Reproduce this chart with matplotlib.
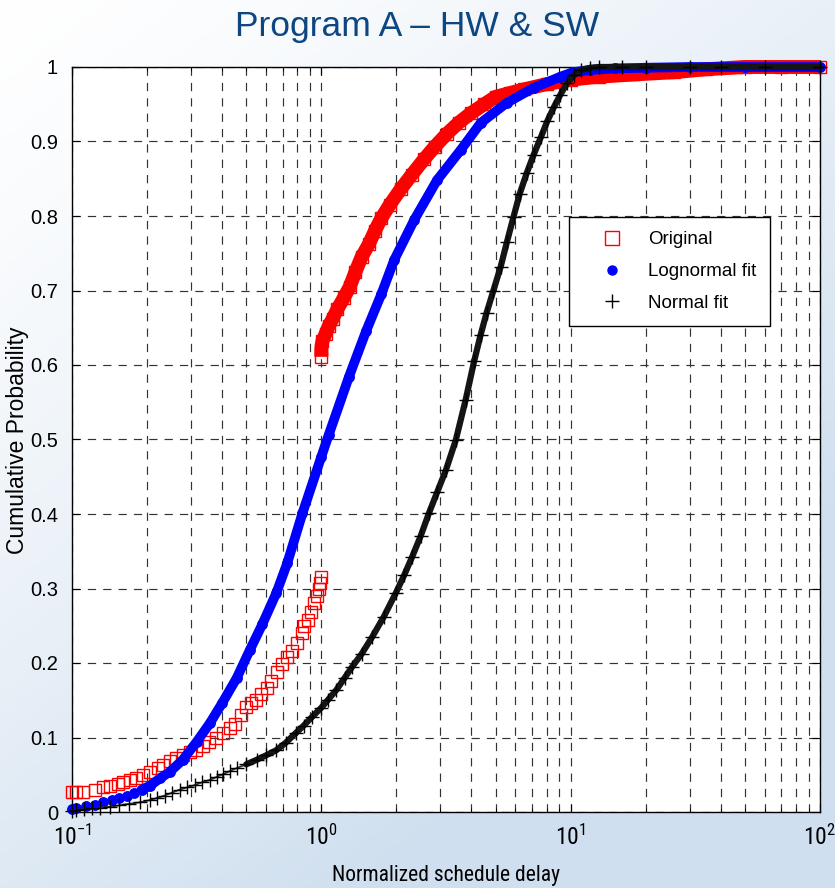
import numpy as np
import matplotlib
matplotlib.use("Agg")
import matplotlib.pyplot as plt
from matplotlib import font_manager
from matplotlib.lines import Line2D

# ---------------- data ----------------
title_text = "Program A – HW & SW"
x_label = "Normalized schedule delay"
y_label = "Cumulative Probability"
legend_labels = ["Original", "Lognormal fit", "Normal fit"]

x_ticks = [0.1, 1, 10, 100]
x_tick_labels = [r"$10^{-1}$", r"$10^{0}$", r"$10^{1}$", r"$10^{2}$"]
y_ticks = [0, 0.1, 0.2, 0.3, 0.4, 0.5, 0.6, 0.7, 0.8, 0.9, 1.0]
y_tick_labels = ["0", "0.1", "0.2", "0.3", "0.4", "0.5", "0.6", "0.7", "0.8", "0.9", "1"]

# Original (empirical) - part below the jump at x = 1
orig_low_x = [0.100, 0.104, 0.111, 0.124, 0.133, 0.142, 0.153, 0.160, 0.171, 0.181,
              0.193, 0.205, 0.221, 0.232, 0.247, 0.262, 0.279, 0.296, 0.315, 0.335,
              0.356, 0.379, 0.403, 0.429, 0.449, 0.478, 0.499, 0.524, 0.549, 0.575,
              0.603, 0.631, 0.661, 0.693, 0.726, 0.760, 0.796, 0.834, 0.855, 0.883,
              0.910, 0.937, 0.958, 0.977, 0.990, 1.000]
orig_low_y = [0.027, 0.027, 0.027, 0.030, 0.033, 0.035, 0.038, 0.040, 0.043, 0.046,
              0.050, 0.054, 0.059, 0.063, 0.068, 0.072, 0.077, 0.080, 0.083, 0.088,
              0.094, 0.100, 0.106, 0.113, 0.118, 0.130, 0.141, 0.146, 0.151, 0.158,
              0.167, 0.176, 0.188, 0.199, 0.208, 0.216, 0.227, 0.240, 0.250, 0.258,
              0.268, 0.280, 0.290, 0.300, 0.308, 0.315]
# Original (empirical) - part above the jump at x = 1
orig_high_x = [1.00, 1.00, 1.01, 1.04, 1.07, 1.11, 1.16, 1.23, 1.30, 1.37,
               1.45, 1.55, 1.64, 1.74, 1.88, 2.08, 2.30, 2.58, 2.85, 3.18,
               3.55, 3.98, 4.50, 5.00, 5.70, 6.50, 8.00, 10.0, 13.0, 18.0,
               26.0, 35.0, 50.0, 70.0, 100.0]
orig_high_y = [0.611, 0.622, 0.632, 0.642, 0.652, 0.662, 0.675, 0.690, 0.705, 0.725,
               0.745, 0.762, 0.780, 0.797, 0.815, 0.836, 0.855, 0.876, 0.893, 0.910,
               0.925, 0.938, 0.950, 0.960, 0.965, 0.970, 0.977, 0.983, 0.987, 0.990,
               0.993, 0.997, 1.000, 1.000, 1.000]

# Lognormal fit
logn_x = [0.100, 0.104, 0.114, 0.124, 0.133, 0.145, 0.154, 0.166, 0.177, 0.190,
          0.205, 0.225, 0.247, 0.278, 0.316, 0.357, 0.400, 0.458, 0.516, 0.580,
          0.660, 0.730, 0.840, 1.000, 1.070, 1.290, 1.510, 1.740, 1.960, 2.360,
          2.910, 3.630, 4.360, 5.550, 7.100, 9.100, 10.20, 12.00, 15.00, 20.00,
          30.00, 50.00, 100.0]
logn_y = [0.004, 0.005, 0.008, 0.010, 0.013, 0.016, 0.019, 0.021, 0.025, 0.030,
          0.035, 0.045, 0.054, 0.070, 0.094, 0.119, 0.146, 0.180, 0.217, 0.252,
          0.294, 0.334, 0.401, 0.477, 0.506, 0.584, 0.645, 0.695, 0.741, 0.795,
          0.848, 0.889, 0.925, 0.952, 0.972, 0.987, 0.993, 0.996, 0.998, 0.999,
          1.000, 1.000, 1.000]

# Normal fit
norm_x = [0.100, 0.104, 0.112, 0.120, 0.130, 0.142, 0.155, 0.170, 0.187, 0.205,
          0.220, 0.235, 0.252, 0.270, 0.290, 0.310, 0.333, 0.357, 0.380, 0.405,
          0.430, 0.458, 0.500, 0.550, 0.600, 0.660, 0.720, 0.790, 0.850, 0.920,
          1.000, 1.060, 1.150, 1.240, 1.330, 1.450, 1.600, 1.780, 1.990, 2.150,
          2.310, 2.500, 2.700, 2.920, 3.160, 3.460, 3.790, 4.100, 4.350, 4.600,
          4.900, 5.240, 5.550, 5.900, 6.250, 6.670, 7.100, 7.600, 8.050, 8.560,
          9.100, 9.700, 10.30, 11.00, 12.00, 13.00, 16.00, 20.00, 30.00, 40.00,
          60.00, 100.0]
norm_y = [0.002, 0.003, 0.004, 0.005, 0.006, 0.007, 0.009, 0.011, 0.013, 0.016,
          0.019, 0.022, 0.026, 0.030, 0.033, 0.036, 0.040, 0.043, 0.047, 0.051,
          0.055, 0.059, 0.064, 0.070, 0.076, 0.083, 0.093, 0.106, 0.116, 0.128,
          0.140, 0.150, 0.164, 0.180, 0.195, 0.212, 0.235, 0.262, 0.294, 0.318,
          0.342, 0.370, 0.401, 0.430, 0.459, 0.499, 0.553, 0.605, 0.640, 0.670,
          0.700, 0.732, 0.765, 0.799, 0.830, 0.858, 0.882, 0.906, 0.927, 0.946,
          0.963, 0.979, 0.989, 0.996, 0.999, 1.000, 1.000, 1.000, 1.000, 1.000,
          1.000, 1.000]

# ---------------- fonts ----------------
def has_font(name):
    try:
        font_manager.findfont(font_manager.FontProperties(family=name),
                              fallback_to_default=False)
        return True
    except Exception:
        return False

SANS = "Liberation Sans" if has_font("Liberation Sans") else "DejaVu Sans"
NARROW = None
for cand in ["Liberation Sans Narrow", "DejaVu Sans Condensed", "Roboto Condensed",
             "Open Sans Condensed", "Noto Sans Condensed"]:
    if has_font(cand):
        NARROW = cand
        break
if NARROW is None:
    NARROW = SANS
    xlab_size, xtick_size = 14.5, 16
else:
    xlab_size, xtick_size = 15.5, 17

plt.rcParams["font.family"] = [SANS, "DejaVu Sans"]
plt.rcParams["mathtext.fontset"] = "custom"
plt.rcParams["mathtext.rm"] = NARROW
plt.rcParams["mathtext.it"] = NARROW
plt.rcParams["mathtext.bf"] = NARROW

# ---------------- figure ----------------
W, H = 835, 888
fig = plt.figure(figsize=(W / 100, H / 100), dpi=100)

# slide-like light blue gradient background
bg = fig.add_axes([0, 0, 1, 1], zorder=-10)
gx, gy = np.meshgrid(np.linspace(0, 1, 200), np.linspace(0, 1, 200))
t = np.clip(0.55 * gx + 0.75 * gy, 0, 1) ** 1.3
c0 = np.array([1.0, 1.0, 1.0])
c1 = np.array([207, 223, 239]) / 255.0
img = c0[None, None, :] * (1 - t[..., None]) + c1[None, None, :] * t[..., None]
bg.imshow(img, extent=[0, 1, 0, 1], aspect="auto", origin="upper")
bg.set_xlim(0, 1)
bg.set_ylim(0, 1)
bg.axis("off")

ax_l, ax_r, ax_b, ax_t = 72, 820, 812, 67
ax = fig.add_axes([ax_l / W, 1 - ax_b / H, (ax_r - ax_l) / W, (ax_b - ax_t) / H])
ax.set_facecolor("white")
ax.set_xscale("log")
ax.set_xlim(0.1, 100)
ax.set_ylim(0, 1)

# grid
grid_kw = dict(color="#333333", linewidth=0.85, linestyle=(0, (7, 6)))
ax.grid(True, which="both", axis="x", **grid_kw)
ax.grid(True, which="major", axis="y", **grid_kw)
ax.set_axisbelow(True)

# ---------------- series ----------------
red = "#ff0000"
blue = "#0000ff"
# Original
ax.plot(orig_low_x, orig_low_y, linestyle="none", marker="s", markersize=9,
        markerfacecolor="none", markeredgecolor=red, markeredgewidth=1.0,
        clip_on=False, zorder=3)
ax.plot(orig_high_x, orig_high_y, color=red, linewidth=10, solid_capstyle="butt",
        marker="s", markersize=9, markerfacecolor="none", markeredgecolor=red,
        markeredgewidth=1.0, clip_on=False, zorder=3)
# Lognormal fit
ax.plot(logn_x[9:], logn_y[9:], color=blue, linewidth=7, solid_capstyle="round",
        clip_on=False, zorder=4)
ax.plot(logn_x, logn_y, linestyle="none", marker="o", markersize=6.8,
        markerfacecolor=blue, markeredgecolor=blue, clip_on=False, zorder=4)
# Normal fit
ax.plot(norm_x, norm_y, color="#333333", linewidth=1.3, clip_on=False, zorder=5)
ax.plot(norm_x[22:], norm_y[22:], color="#151515", linewidth=4.5,
        solid_capstyle="round", clip_on=False, zorder=5)
ax.plot(norm_x, norm_y, linestyle="none", marker="+", markersize=9.5,
        markeredgecolor="black", markeredgewidth=1.0, clip_on=False, zorder=5)

# ---------------- axes styling ----------------
for s in ax.spines.values():
    s.set_color("black")
    s.set_linewidth(1.0)

ax.set_xticks(x_ticks)
ax.set_xticklabels(x_tick_labels, fontsize=xtick_size)
ax.set_yticks(y_ticks)
ax.set_yticklabels(y_tick_labels, fontsize=14.5, family=SANS)
ax.tick_params(axis="both", which="both", direction="in", top=True, right=True,
               colors="black")
ax.tick_params(axis="both", which="major", length=6)
ax.tick_params(axis="x", which="minor", length=3)
ax.tick_params(axis="x", which="major", pad=9)
ax.tick_params(axis="y", which="major", pad=10)

# legend
handles = [
    Line2D([], [], linestyle="none", marker="s", markersize=10,
           markerfacecolor="none", markeredgecolor=red, markeredgewidth=1.0),
    Line2D([], [], linestyle="none", marker="o", markersize=6.5,
           markerfacecolor=blue, markeredgecolor=blue),
    Line2D([], [], linestyle="none", marker="+", markersize=10,
           markeredgecolor="black", markeredgewidth=1.0),
]
leg = ax.legend(handles, legend_labels, loc="center",
                bbox_to_anchor=(0.799, 0.7255), prop={"family": SANS, "size": 13.5},
                frameon=True, fancybox=False, framealpha=1.0, edgecolor="black",
                borderpad=0.75, labelspacing=0.78, handlelength=3.1,
                handletextpad=0.35, borderaxespad=0.0)
leg.get_frame().set_linewidth(1.0)
leg.set_zorder(10)

# titles / labels
fig.text(0.5, 1 - 36 / H, title_text, ha="center", va="baseline",
         fontsize=25.5, color="#0d4680", family=SANS)
fig.text(446 / W, 1 - 881 / H, x_label, ha="center", va="baseline",
         fontsize=xlab_size, color="black", family=NARROW)
fig.text(18 / W, 1 - 440 / H, y_label, ha="center", va="center", rotation=90,
         fontsize=16.5, color="black", family=SANS)

fig.savefig("out.png", dpi=100)
